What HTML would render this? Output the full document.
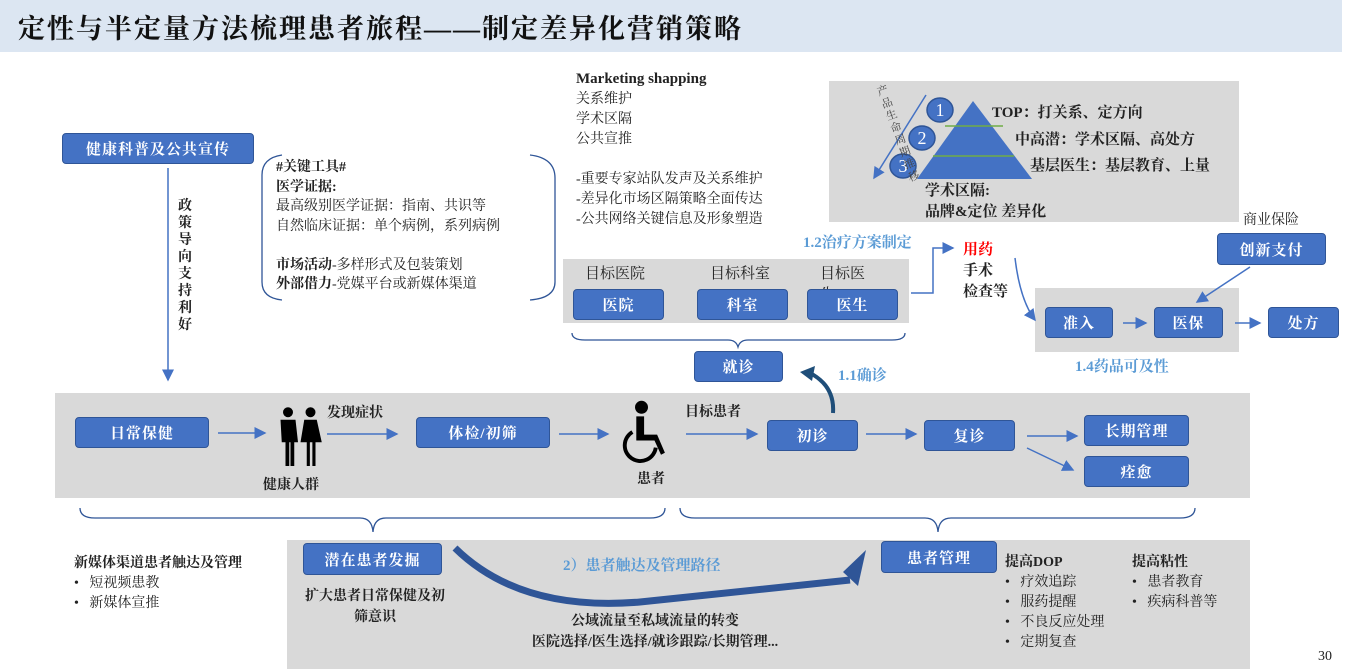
<!DOCTYPE html><html><head><meta charset="utf-8"><style>
body{margin:0;width:1350px;height:669px;position:relative;background:#fff;overflow:hidden;font-family:"Liberation Serif","Noto Serif CJK SC",serif;color:#222}
div{position:absolute;box-sizing:border-box}
.b{background:#4472c4;border:1.5px solid #2f5597;border-radius:4px;color:#fff;font-weight:bold;font-size:15px;display:flex;align-items:center;justify-content:center;letter-spacing:1px}
.g{background:#d9d9d9}
.t{font-size:14px;font-weight:bold;white-space:nowrap;line-height:20px}
.n{font-size:14px;white-space:nowrap;line-height:20px}
</style></head><body>
<div style="left:0;top:0;width:1342px;height:52px;background:#dce6f2"></div>
<div style="left:18px;top:7px;font-size:27px;font-weight:bold;letter-spacing:2px;white-space:nowrap;color:#111">定性与半定量方法梳理患者旅程——制定差异化营销策略</div>

<div class="g" style="left:829px;top:81px;width:410px;height:141px"></div>
<div class="g" style="left:563px;top:259px;width:346px;height:64px"></div>
<div class="g" style="left:1035px;top:288px;width:204px;height:64px"></div>
<div class="g" style="left:55px;top:393px;width:1195px;height:105px"></div>
<div class="g" style="left:287px;top:540px;width:963px;height:129px"></div>

<svg width="1350" height="669" style="position:absolute;left:0;top:0">
<defs><marker id="a" markerWidth="8" markerHeight="8" refX="7" refY="4" orient="auto"><path d="M0,0L8,4L0,8z" fill="#4472c4"/></marker></defs>
<g stroke="#4472c4" stroke-width="1.5" fill="none" marker-end="url(#a)">
<line x1="168" y1="168" x2="168" y2="380"/>
<line x1="218" y1="433" x2="265" y2="433"/>
<line x1="327" y1="434" x2="397" y2="434"/>
<line x1="559" y1="434" x2="608" y2="434"/>
<line x1="686" y1="434" x2="757" y2="434"/>
<line x1="866" y1="434" x2="916" y2="434"/>
<line x1="1027" y1="436" x2="1077" y2="436"/>
<line x1="1027" y1="448" x2="1073" y2="470"/>
<line x1="1123" y1="323" x2="1146" y2="323"/>
<line x1="1235" y1="323" x2="1260" y2="323"/>
<line x1="1250" y1="267" x2="1197" y2="302"/>
<polyline points="911,293 933,293 933,248 953,248"/>
<path d="M1015,258 Q1020,300 1035,320"/>
<line x1="926" y1="95" x2="874" y2="178"/>
</g>
<path d="M833,413 Q835,385 808,372" stroke="#1f4e79" stroke-width="4" fill="none"/>
<path d="M800,372 L815,366 L812,381z" fill="#1f4e79"/>
<path d="M455,548 Q520,612 640,602 L850,580" stroke="#2f5597" stroke-width="7" fill="none"/>
<path d="M843,572 L866,550 L858,586z" fill="#2f5597"/>
<polygon points="973,101 917,179 1032,179" fill="#4472c4"/>
<line x1="945" y1="126" x2="1003" y2="126" stroke="#70ad47" stroke-width="1.5"/>
<line x1="933" y1="156" x2="1014" y2="156" stroke="#70ad47" stroke-width="1.5"/>
<g fill="#4472c4" stroke="#2f5597" stroke-width="1.5"><ellipse cx="940" cy="110" rx="13" ry="12"/><ellipse cx="922" cy="138" rx="13" ry="12"/><ellipse cx="903" cy="166" rx="13" ry="12"/></g>
<g fill="#fff" font-size="18" font-family="Liberation Serif" text-anchor="middle"><text x="940" y="116">1</text><text x="922" y="144">2</text><text x="903" y="172">3</text></g>
<g stroke="#2f5597" stroke-width="1.3" fill="none">
<path d="M282,155 Q262,158 262,175 L262,282 Q262,298 282,300"/>
<path d="M530,155 Q555,158 555,178 L555,282 Q555,298 530,300"/>
<path d="M572,333 Q572,340 585,340 L728,340 Q736,340 738,347 Q740,340 748,340 L892,340 Q905,340 905,333"/>
<path d="M80,508 Q80,518 95,518 L360,518 Q372,518 373,532 Q374,518 386,518 L650,518 Q665,518 665,508"/>
<path d="M680,508 Q680,518 695,518 L925,518 Q937,518 938,532 Q939,518 951,518 L1180,518 Q1195,518 1195,508"/>
</g>
<g fill="#000" transform="translate(298,436) scale(1.25) translate(-298,-436)">
<circle cx="290" cy="417" r="4"/><path d="M284,423 h12 l2,18 h-3 v19 h-3 v-19 h-1 v19 h-3 v-19 h-3 z"/>
<circle cx="308" cy="417" r="4"/><path d="M303,423 h10 l4,18 h-5 v19 h-2.5 v-19 h-2 v19 h-2.5 v-19 h-5 z"/>
</g>
<g fill="#000" transform="translate(648,432) scale(1.3) translate(-648,-432)">
<circle cx="643" cy="413" r="5"/>
<path d="M639,420 h6 v14 h10 l6,14 l-3,1.5 l-5,-11 h-14 z"/>
<path d="M636,432 a12,12 0 1,0 18,12" stroke="#000" stroke-width="3" fill="none"/>
</g>
</svg>

<div class="b" style="left:62px;top:133px;width:192px;height:31px">健康科普及公共宣传</div>
<div class="t" style="left:178px;top:198px;width:16px;white-space:normal;line-height:17px">政策导向支持利好</div>
<div class="n" style="left:276px;top:158px;line-height:19.5px"><b>#关键工具#</b><br><b>医学证据:</b><br>最高级别医学证据：指南、共识等<br>自然临床证据：单个病例，系列病例<br><br><b>市场活动</b>-多样形式及包装策划<br><b>外部借力</b>-党媒平台或新媒体渠道</div>
<div class="n" style="left:576px;top:69px;line-height:20px"><b style="font-size:15px">Marketing shapping</b><br>关系维护<br>学术区隔<br>公共宣推<br><br>-重要专家站队发声及关系维护<br>-差异化市场区隔策略全面传达<br>-公共网络关键信息及形象塑造</div>
<div style="left:893px;top:82px;width:14px;font-size:11px;line-height:13px;color:#444;transform:rotate(-20deg)">产品生命周期推移</div>
<div class="t" style="left:992px;top:103px;font-size:15px">TOP：打关系、定方向</div>
<div class="t" style="left:1015px;top:130px;font-size:15px">中高潜：学术区隔、高处方</div>
<div class="t" style="left:1030px;top:156px;font-size:15px">基层医生：基层教育、上量</div>
<div class="t" style="left:925px;top:181px;font-size:15px;line-height:21px">学术区隔:<br>品牌&amp;定位 差异化</div>
<div class="t" style="left:803px;top:233px;color:#5b9bd5;font-size:15px">1.2治疗方案制定</div>
<div class="t" style="left:963px;top:240px;font-size:15px;line-height:21px"><span style="color:#f00">用药</span><br>手术<br>检查等</div>
<div class="n" style="left:585px;top:264px;font-size:15px">目标医院</div>
<div class="n" style="left:710px;top:264px;font-size:15px">目标科室</div>
<div class="n" style="left:820px;top:264px;font-size:15px;width:50px;white-space:normal;line-height:21px">目标医生</div>
<div class="b" style="left:573px;top:289px;width:91px;height:31px">医院</div>
<div class="b" style="left:697px;top:289px;width:91px;height:31px">科室</div>
<div class="b" style="left:807px;top:289px;width:91px;height:31px">医生</div>
<div class="b" style="left:694px;top:351px;width:89px;height:31px">就诊</div>
<div class="t" style="left:838px;top:366px;color:#5b9bd5;font-size:15px">1.1确诊</div>
<div class="n" style="left:1243px;top:211px">商业保险</div>
<div class="b" style="left:1217px;top:233px;width:109px;height:32px">创新支付</div>
<div class="b" style="left:1045px;top:307px;width:68px;height:31px">准入</div>
<div class="b" style="left:1154px;top:307px;width:69px;height:31px">医保</div>
<div class="b" style="left:1268px;top:307px;width:71px;height:31px">处方</div>
<div class="t" style="left:1075px;top:357px;color:#5b9bd5;font-size:15px">1.4药品可及性</div>

<div class="b" style="left:75px;top:417px;width:134px;height:31px">日常保健</div>
<div class="t" style="left:327px;top:404px">发现症状</div>
<div class="t" style="left:263px;top:476px">健康人群</div>
<div class="b" style="left:416px;top:417px;width:134px;height:31px">体检/初筛</div>
<div class="t" style="left:637px;top:470px">患者</div>
<div class="t" style="left:685px;top:403px">目标患者</div>
<div class="b" style="left:767px;top:420px;width:91px;height:31px">初诊</div>
<div class="b" style="left:924px;top:420px;width:91px;height:31px">复诊</div>
<div class="b" style="left:1084px;top:415px;width:105px;height:31px">长期管理</div>
<div class="b" style="left:1084px;top:456px;width:105px;height:31px">痊愈</div>

<div class="t" style="left:74px;top:554px">新媒体渠道患者触达及管理</div>
<div class="n" style="left:74px;top:574px">•&nbsp;&nbsp; 短视频患教<br>•&nbsp;&nbsp; 新媒体宣推</div>
<div class="b" style="left:303px;top:543px;width:139px;height:32px">潜在患者发掘</div>
<div class="t" style="left:300px;top:586px;width:150px;text-align:center;white-space:normal;line-height:21px">扩大患者日常保健及初筛意识</div>
<div class="t" style="left:563px;top:556px;color:#5b9bd5;font-size:15px">2）患者触达及管理路径</div>
<div class="t" style="left:480px;top:611px;width:350px;text-align:center;line-height:21px">公域流量至私域流量的转变<br>医院选择/医生选择/就诊跟踪/长期管理...</div>
<div class="b" style="left:881px;top:541px;width:116px;height:32px">患者管理</div>
<div class="n" style="left:1005px;top:553px"><b>提高DOP</b><br>•&nbsp;&nbsp; 疗效追踪<br>•&nbsp;&nbsp; 服药提醒<br>•&nbsp;&nbsp; 不良反应处理<br>•&nbsp;&nbsp; 定期复查</div>
<div class="n" style="left:1132px;top:553px"><b>提高粘性</b><br>•&nbsp;&nbsp; 患者教育<br>•&nbsp;&nbsp; 疾病科普等</div>
<div class="n" style="left:1318px;top:647px">30</div>
</body></html>
